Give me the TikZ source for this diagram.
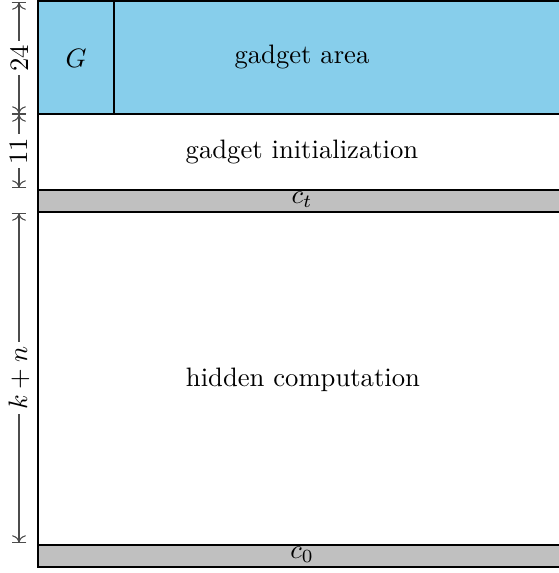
\documentclass[tikz,border=0pt]{standalone}
\usetikzlibrary{arrows.meta}
\definecolor{areablue}{RGB}{135,206,235}
\definecolor{bargray}{RGB}{192,192,192}
\begin{document}
\begin{tikzpicture}[x=0.3752pt,y=-0.3752pt,
  box/.style={draw=black,line width=0.8pt},
  dimline/.style={{Bar[width=5.5pt]To[]}-{To[]Bar[width=5.5pt]},line width=0.4pt,draw=black!70},
  dimlabel/.style={fill=white,rotate=90,inner sep=1.5pt,text=black}]
\useasboundingbox (0,0) rectangle (559,573);
% regions
\draw[box,fill=areablue] (38,1) rectangle (566,114);
\draw[box] (38,114) rectangle (566,190);
\draw[box,fill=bargray] (38,190) rectangle (566,212);
\draw[box] (38,212) rectangle (566,545);
\draw[box,fill=bargray] (38,545) rectangle (566,567);
\draw[box,line width=0.7pt] (114,1) -- (114,114);
% labels
\node (G) at (76,58) {$G$};
\node (area) at (302,57) {gadget area};
\node (init) at (302,152) {gadget initialization};
\node (ct) at (302,200) {$c_t$};
\node (hidden) at (303,380) {hidden computation};
\node (c0) at (302,555) {$c_0$};
% dimensions
\coordinate (d1) at (19,2);
\coordinate (d2) at (19,114);
\coordinate (d3) at (19,188);
\coordinate (d4) at (19,213);
\coordinate (d5) at (19,543);
\draw[dimline] (d1) -- node[dimlabel] (l24) {24} (d2);
\draw[dimline] (d2) -- node[dimlabel] (l11) {11} (d3);
\draw[dimline] (d4) -- node[dimlabel] (lkn) {$k+n$} (d5);
\end{tikzpicture}
\end{document}
